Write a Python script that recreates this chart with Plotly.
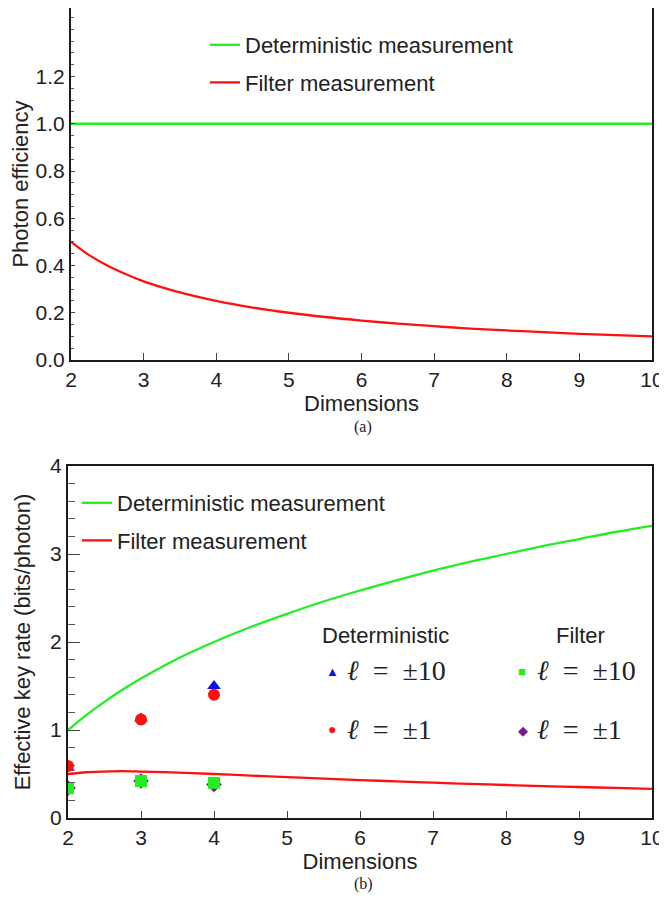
import plotly.graph_objects as go

# ---------------- data ----------------
dims = [2, 2.25, 2.5, 2.75, 3, 3.5, 4, 4.5, 5, 5.5, 6, 6.5, 7, 7.5, 8, 8.5, 9, 9.5, 10]

# panel (a): photon efficiency
eff_det = [1.0] * len(dims)
eff_filter = [0.5, 0.444, 0.4, 0.364, 0.333, 0.286, 0.25, 0.222, 0.2, 0.182,
              0.167, 0.154, 0.143, 0.133, 0.125, 0.118, 0.111, 0.105, 0.1]

# panel (b): effective key rate
rate_det = [1.0, 1.17, 1.32, 1.46, 1.585, 1.81, 2.0, 2.17, 2.32, 2.46,
            2.585, 2.70, 2.81, 2.91, 3.0, 3.09, 3.17, 3.25, 3.32]
rate_filter = [0.5, 0.52, 0.528, 0.532, 0.528, 0.516, 0.5, 0.482, 0.464, 0.447,
               0.431, 0.416, 0.401, 0.388, 0.375, 0.363, 0.352, 0.342, 0.332]

exp_d = [2, 3, 4]
det_l10 = [0.57, 1.13, 1.50]
det_l1 = [0.59, 1.12, 1.40]
fil_l10 = [0.34, 0.42, 0.40]
fil_l1 = [0.34, 0.42, 0.38]

x_ticks = [2, 3, 4, 5, 6, 7, 8, 9, 10]
ya_ticks = [0.0, 0.2, 0.4, 0.6, 0.8, 1.0, 1.2]
ya_labels = ["0.0", "0.2", "0.4", "0.6", "0.8", "1.0", "1.2"]
yb_ticks = [0, 1, 2, 3, 4]

GREEN = "#22ee22"
RED = "#ff1010"
FONT = "Liberation Sans, Arial, sans-serif"
SERIF = "Liberation Serif, Times New Roman, serif"

fig = go.Figure()

# panel (a)
fig.add_trace(go.Scatter(x=dims, y=eff_det, mode="lines", name="Deterministic measurement",
                         line=dict(color=GREEN, width=2.3), xaxis="x", yaxis="y",
                         legend="legend", legendgroup="a1"))
fig.add_trace(go.Scatter(x=dims, y=eff_filter, mode="lines", name="Filter measurement",
                         line=dict(color=RED, width=2.3, shape="spline"), xaxis="x", yaxis="y",
                         legend="legend", legendgroup="a2"))

# panel (b)
fig.add_trace(go.Scatter(x=dims, y=rate_det, mode="lines", name="Deterministic measurement",
                         line=dict(color=GREEN, width=2.3, shape="spline"), xaxis="x2", yaxis="y2",
                         legend="legend2", legendgroup="b1"))
fig.add_trace(go.Scatter(x=dims, y=rate_filter, mode="lines", name="Filter measurement",
                         line=dict(color=RED, width=2.3, shape="spline"), xaxis="x2", yaxis="y2",
                         legend="legend2", legendgroup="b2"))

fig.add_trace(go.Scatter(x=exp_d, y=fil_l1, mode="markers", showlegend=False,
                         marker=dict(symbol="diamond", size=12, color="#7a1a8a"),
                         xaxis="x2", yaxis="y2"))
fig.add_trace(go.Scatter(x=exp_d, y=fil_l10, mode="markers", showlegend=False,
                         marker=dict(symbol="square", size=12, color="#22ee22"),
                         xaxis="x2", yaxis="y2"))
fig.add_trace(go.Scatter(x=exp_d, y=det_l10, mode="markers", showlegend=False,
                         marker=dict(symbol="triangle-up", size=12, color="#1010ee"),
                         xaxis="x2", yaxis="y2"))
fig.add_trace(go.Scatter(x=exp_d, y=det_l1, mode="markers", showlegend=False,
                         marker=dict(symbol="circle", size=12, color="#ff1010"),
                         xaxis="x2", yaxis="y2"))

# the page body adds an 8 px offset; size the figure so it fills the window
OFF = 8
W, H = 667 - OFF, 901 - OFF
def px(x):
    return (x - OFF) / W
def py(y):
    return 1 - (y - OFF) / H

axis_common = dict(showline=True, linecolor="#1a1a1a", linewidth=2, mirror=True,
                   showgrid=False, zeroline=False, ticks="inside", tickcolor="#444",
                   automargin=False,
                   tickfont=dict(family=FONT, size=21, color="#222"))
title_font = dict(family=FONT, size=22, color="#222")

fig.update_layout(
    width=W, height=H, margin=dict(l=0, r=0, t=0, b=0, autoexpand=False),
    paper_bgcolor="white", plot_bgcolor="white",
    font=dict(family=FONT, color="#222"),
    xaxis=dict(domain=[px(71), px(652)], range=[2, 10], tickvals=x_ticks, anchor="y",
               ticklen=7, tickwidth=1,
               title=dict(text="Dimensions", font=title_font, standoff=5),
               **axis_common),
    yaxis=dict(domain=[py(360), py(8)], range=[0, 1.49], tickvals=ya_ticks, ticktext=ya_labels,
               anchor="x", ticklen=4, tickwidth=1,
               minor=dict(dtick=0.05, ticks="inside", ticklen=3, tickcolor="#555"),
               title=dict(text="Photon efficiency", font=title_font, standoff=3),
               **axis_common),
    xaxis2=dict(domain=[px(68), px(652)], range=[2, 10], tickvals=x_ticks, anchor="y2",
                ticklen=7, tickwidth=1,
                title=dict(text="Dimensions", font=title_font, standoff=5),
                **axis_common),
    yaxis2=dict(domain=[py(818), py(466)], range=[0, 4], tickvals=yb_ticks, anchor="x2",
                ticklen=12, tickwidth=1,
                minor=dict(dtick=0.2, ticks="inside", ticklen=7, tickcolor="#555"),
                title=dict(text="Effective key rate (bits/photon)", font=title_font,
                           standoff=13),
                **axis_common),
    legend=dict(x=px(205), y=py(24), xanchor="left", yanchor="top", bgcolor="rgba(0,0,0,0)",
                font=dict(family=FONT, size=22, color="#222"), tracegroupgap=6,
                itemwidth=30),
    legend2=dict(x=px(77), y=py(482), xanchor="left", yanchor="top", bgcolor="rgba(0,0,0,0)",
                 font=dict(family=FONT, size=22, color="#222"), tracegroupgap=6,
                 itemwidth=30),
)

SP = "\u2002"
annotations = [
    dict(text="(a)", x=px(363), y=py(427), font=dict(family=SERIF, size=16)),
    dict(text="(b)", x=px(363), y=py(884), font=dict(family=SERIF, size=16)),
    dict(text="Deterministic", x=px(385), y=py(635), font=dict(family=FONT, size=22)),
    dict(text="Filter", x=px(580), y=py(635), font=dict(family=FONT, size=22)),
    dict(text=f"<i>ℓ</i>{SP}={SP}±10", x=px(345), y=py(670), xanchor="left", font=dict(family=SERIF, size=28)),
    dict(text=f"<i>ℓ</i>{SP}={SP}±1", x=px(345), y=py(729), xanchor="left", font=dict(family=SERIF, size=28)),
    dict(text=f"<i>ℓ</i>{SP}={SP}±10", x=px(535), y=py(670), xanchor="left", font=dict(family=SERIF, size=28)),
    dict(text=f"<i>ℓ</i>{SP}={SP}±1", x=px(535), y=py(729), xanchor="left", font=dict(family=SERIF, size=28)),
    dict(text="▲", x=px(332), y=py(671), font=dict(size=13, color="#1010ee")),
    dict(text="●", x=px(332), y=py(729), font=dict(size=14, color="#ff1010")),
    dict(text="■", x=px(522), y=py(671), font=dict(size=13, color="#22ee22")),
    dict(text="◆", x=px(523), y=py(730), font=dict(size=13, color="#7a1a8a")),
]
for a in annotations:
    a.update(xref="paper", yref="paper", showarrow=False, yanchor=a.get("yanchor", "middle"),
             xanchor=a.get("xanchor", "center"))
fig.update_layout(annotations=annotations)

fig.write_html("out.html")
